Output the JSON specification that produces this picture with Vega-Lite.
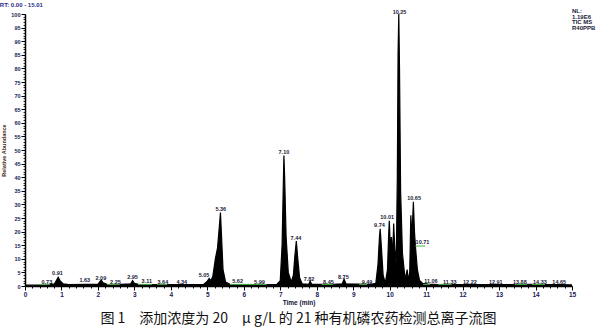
{
  "$schema": "https://vega.github.io/schema/vega-lite/v6.json",
  "width": 547,
  "height": 272,
  "autosize": {"type": "none"},
  "padding": {"left": 25, "top": 14, "right": 38, "bottom": 42},
  "background": "white",
  "config": {"view": {"stroke": null}, "font": "Liberation Sans"},
  "title": {
    "text": "图 1　添加浓度为 20　μ g/L 的 21 种有机磷农药检测总离子流图",
    "orient": "bottom",
    "anchor": "middle",
    "offset": 6,
    "font": "Noto Sans CJK SC",
    "fontSize": 14,
    "fontWeight": "normal",
    "color": "#111111"
  },
  "resolve": {"axis": {"x": "independent", "y": "independent"}},
  "datasets": {
    "tic": [
      {"t": 0.0, "a": 0.3}, {"t": 0.6, "a": 0.4}, {"t": 0.73, "a": 0.8}, {"t": 0.8, "a": 0.6},
      {"t": 0.86, "a": 2.0}, {"t": 0.91, "a": 3.2}, {"t": 0.96, "a": 2.0}, {"t": 1.05, "a": 0.8},
      {"t": 1.2, "a": 0.5}, {"t": 1.63, "a": 0.6}, {"t": 2.0, "a": 0.6}, {"t": 2.05, "a": 1.5},
      {"t": 2.09, "a": 2.2}, {"t": 2.14, "a": 1.2}, {"t": 2.25, "a": 0.6}, {"t": 2.5, "a": 0.5},
      {"t": 2.9, "a": 0.8}, {"t": 2.95, "a": 2.0}, {"t": 3.0, "a": 1.0}, {"t": 3.11, "a": 0.6},
      {"t": 3.64, "a": 0.5}, {"t": 4.34, "a": 0.5}, {"t": 4.9, "a": 0.6}, {"t": 5.0, "a": 1.8},
      {"t": 5.05, "a": 2.8}, {"t": 5.1, "a": 2.0}, {"t": 5.15, "a": 3.5}, {"t": 5.22, "a": 10},
      {"t": 5.28, "a": 14}, {"t": 5.33, "a": 22}, {"t": 5.36, "a": 27}, {"t": 5.39, "a": 18},
      {"t": 5.43, "a": 6}, {"t": 5.5, "a": 1.5}, {"t": 5.62, "a": 0.6}, {"t": 5.99, "a": 0.5},
      {"t": 6.9, "a": 0.5}, {"t": 7.0, "a": 2}, {"t": 7.05, "a": 15}, {"t": 7.08, "a": 35},
      {"t": 7.1, "a": 48}, {"t": 7.12, "a": 40}, {"t": 7.16, "a": 18}, {"t": 7.22, "a": 5},
      {"t": 7.3, "a": 1.5}, {"t": 7.36, "a": 4}, {"t": 7.4, "a": 11}, {"t": 7.44, "a": 16.5},
      {"t": 7.48, "a": 10}, {"t": 7.53, "a": 3}, {"t": 7.6, "a": 0.8}, {"t": 7.78, "a": 0.6},
      {"t": 7.82, "a": 1.8}, {"t": 7.86, "a": 0.6}, {"t": 8.45, "a": 0.6}, {"t": 8.7, "a": 0.8},
      {"t": 8.75, "a": 2.5}, {"t": 8.8, "a": 0.8}, {"t": 9.49, "a": 0.6}, {"t": 9.62, "a": 1},
      {"t": 9.68, "a": 8}, {"t": 9.72, "a": 18}, {"t": 9.74, "a": 21}, {"t": 9.77, "a": 15},
      {"t": 9.82, "a": 4}, {"t": 9.88, "a": 1}, {"t": 9.94, "a": 6}, {"t": 9.97, "a": 18},
      {"t": 9.99, "a": 24}, {"t": 10.02, "a": 14}, {"t": 10.05, "a": 18}, {"t": 10.08, "a": 10},
      {"t": 10.11, "a": 23}, {"t": 10.14, "a": 14}, {"t": 10.18, "a": 8}, {"t": 10.21, "a": 40},
      {"t": 10.23, "a": 85}, {"t": 10.25, "a": 100}, {"t": 10.27, "a": 80}, {"t": 10.3, "a": 35},
      {"t": 10.35, "a": 12}, {"t": 10.42, "a": 3}, {"t": 10.45, "a": 4}, {"t": 10.48, "a": 6},
      {"t": 10.51, "a": 2}, {"t": 10.55, "a": 5}, {"t": 10.58, "a": 26}, {"t": 10.61, "a": 18},
      {"t": 10.65, "a": 31}, {"t": 10.68, "a": 20}, {"t": 10.71, "a": 14}, {"t": 10.76, "a": 6},
      {"t": 10.82, "a": 2}, {"t": 10.9, "a": 1}, {"t": 11.06, "a": 0.7}, {"t": 11.33, "a": 0.5},
      {"t": 12.22, "a": 0.5}, {"t": 12.91, "a": 0.5}, {"t": 13.88, "a": 0.6}, {"t": 14.33, "a": 0.5},
      {"t": 14.65, "a": 0.5}, {"t": 15.0, "a": 0.4}
    ],
    "labels": [
      {"t": 0.6, "a": 1.3, "label": "0.73"}, {"t": 0.89, "a": 4.6, "label": "0.91"},
      {"t": 1.64, "a": 2.2, "label": "1.63"}, {"t": 2.08, "a": 3.0, "label": "2.09"},
      {"t": 2.48, "a": 1.6, "label": "2.25"}, {"t": 2.95, "a": 3.4, "label": "2.95"},
      {"t": 3.34, "a": 1.9, "label": "3.11"}, {"t": 3.78, "a": 1.3, "label": "3.64"},
      {"t": 4.3, "a": 1.3, "label": "4.34"}, {"t": 4.91, "a": 4.1, "label": "5.05"},
      {"t": 5.37, "a": 28.3, "label": "5.36"}, {"t": 5.83, "a": 1.9, "label": "5.62"},
      {"t": 6.43, "a": 1.6, "label": "5.99"}, {"t": 7.1, "a": 49.2, "label": "7.10"},
      {"t": 7.43, "a": 17.7, "label": "7.44"}, {"t": 7.79, "a": 2.7, "label": "7.82"},
      {"t": 8.32, "a": 1.6, "label": "8.45"}, {"t": 8.73, "a": 3.4, "label": "8.75"},
      {"t": 9.38, "a": 1.6, "label": "9.49"}, {"t": 9.72, "a": 22.4, "label": "9.74"},
      {"t": 9.93, "a": 25.3, "label": "10.01"}, {"t": 10.27, "a": 100.8, "label": "10.25"},
      {"t": 10.67, "a": 32.4, "label": "10.65"}, {"t": 10.9, "a": 16.3, "label": "10.71"},
      {"t": 11.13, "a": 1.9, "label": "11.06"}, {"t": 11.65, "a": 1.6, "label": "11.33"},
      {"t": 12.2, "a": 1.6, "label": "12.22"}, {"t": 12.91, "a": 1.6, "label": "12.91"},
      {"t": 13.57, "a": 1.6, "label": "13.88"}, {"t": 14.12, "a": 1.6, "label": "14.33"},
      {"t": 14.65, "a": 1.6, "label": "14.65"}
    ],
    "baselines": [
      {"t1": 0.41, "t2": 0.69, "a": 0.6}, {"t1": 2.25, "t2": 2.6, "a": 0.6},
      {"t1": 3.1, "t2": 3.48, "a": 0.6}, {"t1": 3.62, "t2": 3.9, "a": 0.6},
      {"t1": 5.62, "t2": 6.63, "a": 0.6}, {"t1": 8.14, "t2": 8.45, "a": 0.6},
      {"t1": 9.16, "t2": 9.38, "a": 0.6}, {"t1": 10.7, "t2": 10.97, "a": 14.7},
      {"t1": 10.92, "t2": 11.1, "a": 0.6}, {"t1": 11.33, "t2": 11.7, "a": 0.6},
      {"t1": 13.43, "t2": 13.77, "a": 0.6}, {"t1": 13.9, "t2": 14.26, "a": 0.6}
    ],
    "header": [
      {"t": -0.69, "a": 103.3, "txt": "RT: 0.00 - 15.01"}
    ],
    "nl": [
      {"t": 15.0, "a": 101.2, "txt": "NL:"},
      {"t": 15.0, "a": 99.0, "txt": "1.19E6"},
      {"t": 15.0, "a": 96.9, "txt": "TIC  MS"},
      {"t": 15.0, "a": 94.7, "txt": "R40PPB"}
    ]
  },
  "layer": [
    {
      "data": {"name": "tic"},
      "mark": {"type": "area", "color": "#000000", "opacity": 1, "fillOpacity": 1, "line": {"color": "#000000", "strokeWidth": 1.2}, "clip": true},
      "encoding": {
        "x": {
          "field": "t", "type": "quantitative",
          "scale": {"domain": [0, 15], "nice": false, "zero": false},
          "axis": {
            "title": "Time (min)",
            "titleFontSize": 6.5, "titleFontWeight": "bold", "titleColor": "#111133", "titlePadding": 2,
            "values": [0,1,2,3,4,5,6,7,8,9,10,11,12,13,14,15],
            "labelOverlap": false, "labelFlush": false,
            "labelFontSize": 6.5, "labelFontWeight": "bold", "labelColor": "#1a1a5a", "labelPadding": 1,
            "tickSize": 4, "tickColor": "#000000", "tickWidth": 1,
            "domainColor": "#000000", "domainWidth": 1.5, "grid": false
          }
        },
        "y": {
          "field": "a", "type": "quantitative",
          "scale": {"domain": [0, 100], "nice": false},
          "axis": {
            "title": "Relative Abundance",
            "titleFontSize": 5.5, "titleFontWeight": "bold", "titleColor": "#4a2a10", "titlePadding": 4,
            "values": [0,5,10,15,20,25,30,35,40,45,50,55,60,65,70,75,80,85,90,95,100],
            "labelOverlap": false, "labelFlush": false,
            "labelFontSize": 5.5, "labelFontWeight": "bold", "labelColor": "#1a1a5a", "labelPadding": 1,
            "tickSize": 4, "tickColor": "#000000", "tickWidth": 1,
            "domainColor": "#000000", "domainWidth": 1.5, "grid": false
          }
        }
      }
    },
    {
      "data": {"name": "tic"},
      "mark": {"type": "point", "opacity": 0},
      "encoding": {
        "x": {
          "field": "t", "type": "quantitative",
          "axis": {
            "orient": "bottom", "title": null, "labels": false, "domain": false, "grid": false,
            "values": [0,0.2,0.4,0.6,0.8,1,1.2,1.4,1.6,1.8,2,2.2,2.4,2.6,2.8,3,3.2,3.4,3.6,3.8,4,4.2,4.4,4.6,4.8,5,5.2,5.4,5.6,5.8,6,6.2,6.4,6.6,6.8,7,7.2,7.4,7.6,7.8,8,8.2,8.4,8.6,8.8,9,9.2,9.4,9.6,9.8,10,10.2,10.4,10.6,10.8,11,11.2,11.4,11.6,11.8,12,12.2,12.4,12.6,12.8,13,13.2,13.4,13.6,13.8,14,14.2,14.4,14.6,14.8,15],
            "tickSize": 2, "tickColor": "#000000", "tickWidth": 1
          }
        },
        "y": {
          "field": "a", "type": "quantitative",
          "axis": {
            "orient": "left", "title": null, "labels": false, "domain": false, "grid": false,
            "values": [0,1,2,3,4,5,6,7,8,9,10,11,12,13,14,15,16,17,18,19,20,21,22,23,24,25,26,27,28,29,30,31,32,33,34,35,36,37,38,39,40,41,42,43,44,45,46,47,48,49,50,51,52,53,54,55,56,57,58,59,60,61,62,63,64,65,66,67,68,69,70,71,72,73,74,75,76,77,78,79,80,81,82,83,84,85,86,87,88,89,90,91,92,93,94,95,96,97,98,99,100],
            "tickSize": 2, "tickColor": "#000000", "tickWidth": 0.8
          }
        }
      }
    },
    {
      "data": {"name": "baselines"},
      "mark": {"type": "rule", "color": "#44bb44", "strokeWidth": 1},
      "encoding": {
        "x": {"field": "t1", "type": "quantitative", "axis": null},
        "x2": {"field": "t2"},
        "y": {"field": "a", "type": "quantitative", "axis": null}
      }
    },
    {
      "data": {"name": "labels"},
      "mark": {"type": "text", "baseline": "middle", "align": "center", "fontSize": 5.5, "fontWeight": "bold", "color": "#1a1a3a"},
      "encoding": {
        "x": {"field": "t", "type": "quantitative", "axis": null},
        "y": {"field": "a", "type": "quantitative", "axis": null},
        "text": {"field": "label", "type": "nominal"}
      }
    },
    {
      "data": {"name": "header"},
      "mark": {"type": "text", "baseline": "middle", "align": "left", "fontSize": 6, "fontWeight": "bold", "color": "#2a2a8a", "clip": false},
      "encoding": {
        "x": {"field": "t", "type": "quantitative", "axis": null},
        "y": {"field": "a", "type": "quantitative", "axis": null},
        "text": {"field": "txt", "type": "nominal"}
      }
    },
    {
      "data": {"name": "nl"},
      "mark": {"type": "text", "baseline": "middle", "align": "left", "fontSize": 6, "fontWeight": "bold", "color": "#1a1a3a", "clip": false},
      "encoding": {
        "x": {"field": "t", "type": "quantitative", "axis": null},
        "y": {"field": "a", "type": "quantitative", "axis": null},
        "text": {"field": "txt", "type": "nominal"}
      }
    }
  ]
}
